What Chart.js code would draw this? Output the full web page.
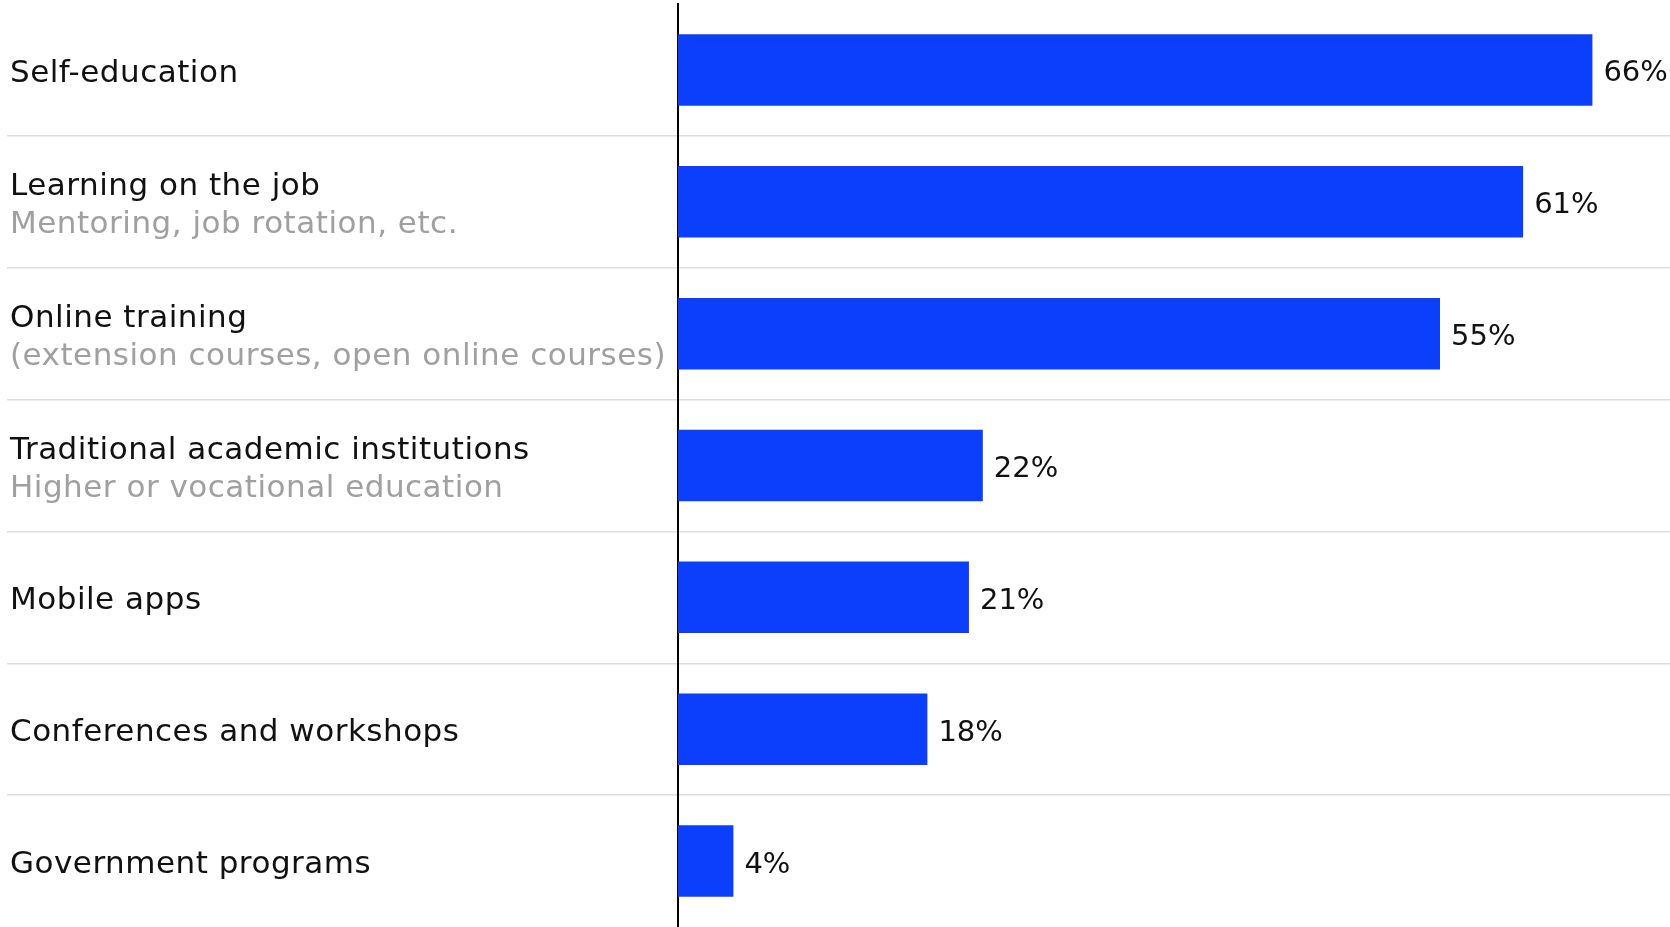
<!DOCTYPE html>
<html>
<head>
<meta charset="utf-8">
<script src="https://cdn.jsdelivr.net/npm/chart.js@4/dist/chart.umd.min.js"></script>
<style>
  html, body { margin: 0; padding: 0; background: #ffffff; }
  #wrap { width: 1670px; height: 927px; }
</style>
</head>
<body>
<div id="wrap"><canvas id="chart" width="1670" height="927"></canvas></div>
<script>
// Ways of learning, share of respondents (%)
const categories = [
  'Self-education',
  'Learning on the job',
  'Online training',
  'Traditional academic institutions',
  'Mobile apps',
  'Conferences and workshops',
  'Government programs'
];
const subtitles = [
  '',
  'Mentoring, job rotation, etc.',
  '(extension courses, open online courses)',
  'Higher or vocational education',
  '',
  '',
  ''
];
const shares = [66, 61, 55, 22, 21, 18, 4];

const FONT = '"DejaVu Sans", "Noto Sans", sans-serif';
const BAR_BLUE = '#0b3ffc';
const RULE_GREY = '#dedede';

// Category titles (with optional grey second line) and value labels at bar ends
const rowLabels = {
  id: 'rowLabels',
  afterDraw(chart) {
    const { ctx } = chart;
    const y = chart.scales.y;
    const x = chart.scales.x;
    ctx.save();
    ctx.textBaseline = 'middle';
    categories.forEach((name, i) => {
      const cy = y.getPixelForValue(i) + 4;
      ctx.textAlign = 'left';
      ctx.font = '31px ' + FONT;
      ctx.letterSpacing = '0.5px';
      if (subtitles[i]) {
        ctx.fillStyle = '#111111';
        ctx.fillText(name, 10, cy - 19);
        ctx.fillStyle = '#a0a0a0';
        ctx.fillText(subtitles[i], 10, cy + 19);
      } else {
        ctx.fillStyle = '#111111';
        ctx.fillText(name, 10, cy);
      }
      ctx.letterSpacing = '0px';
      ctx.fillStyle = '#111111';
      ctx.font = '29px ' + FONT;
      ctx.fillText(shares[i] + '%', x.getPixelForValue(shares[i]) + 11, cy);
    });
    ctx.restore();
  }
};

const separatorColor = (c) =>
  (c.type === 'tick' && c.index >= 1) ? RULE_GREY : 'rgba(0,0,0,0)';

new Chart(document.getElementById('chart'), {
  type: 'bar',
  data: {
    labels: categories,
    datasets: [{
      data: shares,
      backgroundColor: BAR_BLUE,
      borderWidth: 0,
      barPercentage: 0.542,
      categoryPercentage: 1.0
    }]
  },
  options: {
    indexAxis: 'y',
    responsive: false,
    animation: false,
    events: [],
    layout: { padding: { left: 7, top: 4, right: 0, bottom: 0 } },
    plugins: {
      legend: { display: false },
      tooltip: { enabled: false }
    },
    scales: {
      x: {
        display: false,
        min: 0,
        max: 71.6
      },
      y: {
        z: 1,
        ticks: { display: false },
        grid: {
          offset: true,
          drawTicks: true,
          tickLength: 671,
          lineWidth: 1.5,
          color: separatorColor,
          tickColor: separatorColor
        },
        border: { display: true, color: '#000000', width: 2 }
      }
    }
  },
  plugins: [rowLabels]
});
</script>
</body>
</html>
